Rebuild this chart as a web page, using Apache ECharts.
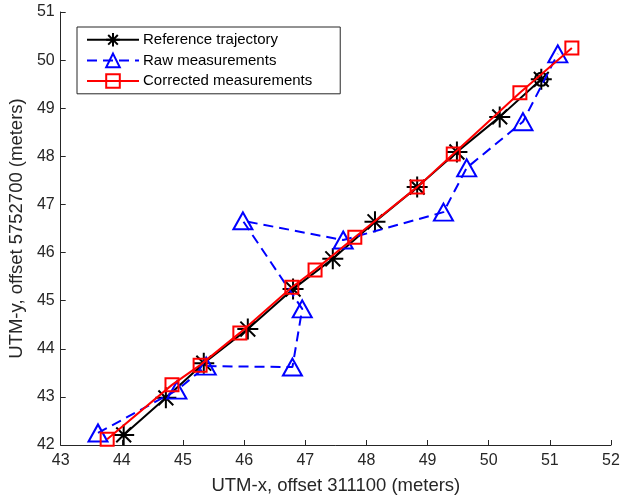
<!DOCTYPE html>
<html>
<head>
<meta charset="utf-8">
<script src="https://cdn.jsdelivr.net/npm/echarts@6/dist/echarts.min.js"></script>
<style>html,body{margin:0;padding:0;background:#fff;}#c{width:620px;height:499px;}</style>
</head>
<body>
<div id="c"></div>
<script>
// Reference trajectory
var refX = [44.03, 44.72, 45.34, 46.06, 46.80, 47.45, 48.14, 48.83, 49.48, 50.18, 50.86];
var refY = [42.21, 42.98, 43.70, 44.41, 45.24, 45.87, 46.64, 47.36, 48.09, 48.82, 49.60];
// Raw measurements
var rawX = [43.61, 44.90, 45.38, 46.79, 46.95, 45.98, 47.62, 49.26, 49.64, 50.56, 51.13];
var rawY = [42.25, 43.14, 43.64, 43.62, 44.83, 46.66, 46.26, 46.84, 47.76, 48.72, 50.13];
// Corrected measurements
var corX = [43.76, 44.82, 45.28, 45.93, 46.78, 47.16, 47.81, 48.83, 49.42, 50.51, 51.36];
var corY = [42.12, 43.25, 43.66, 44.33, 45.28, 45.64, 46.32, 47.36, 48.05, 49.32, 50.25];
// End marker (circle on final reference point)
var endX = [50.86];
var endY = [49.60];

var seriesNames = ['Reference trajectory', 'Raw measurements', 'Corrected measurements'];
var xLabel = 'UTM-x, offset 311100 (meters)';
var yLabel = 'UTM-y, offset 5752700 (meters)';

function pairs(xs, ys) { return xs.map(function (x, i) { return [x, ys[i]]; }); }

var FONT = 'Liberation Sans';
var AX = '#262626';
var starPath = 'path://M10,0L10,20M0,10L20,10M2.93,2.93L17.07,17.07M2.93,17.07L17.07,2.93';

var chart = echarts.init(document.getElementById('c'), null, {renderer: 'canvas'});
chart.setOption({
  animation: false,
  backgroundColor: '#fff',
  textStyle: {fontFamily: FONT},
  grid: {left: 60.7, right: 9, top: 12, bottom: 54, containLabel: false, outerBoundsMode: 'none'},
  legend: {
    orient: 'vertical', left: 77, top: 27,
    padding: [5, 28, 5, 9],
    itemWidth: 52, itemHeight: 17, itemGap: 5,
    borderColor: AX, borderWidth: 1, backgroundColor: '#fff',
    textStyle: {fontFamily: FONT, fontSize: 15, color: '#000', padding: [0, 0, 0, -1]},
    data: seriesNames
  },
  xAxis: {
    type: 'value', min: 43, max: 52, interval: 1,
    name: xLabel, nameLocation: 'middle', nameGap: 31,
    nameTextStyle: {fontFamily: FONT, fontSize: 18.5, color: AX},
    axisLine: {show: true, onZero: false, lineStyle: {color: AX, width: 1}},
    axisTick: {show: true, inside: true, length: 5, lineStyle: {color: AX}},
    axisLabel: {fontFamily: FONT, fontSize: 16, color: AX, margin: 8},
    splitLine: {show: false}
  },
  yAxis: {
    type: 'value', min: 42, max: 51, interval: 1,
    name: yLabel, nameLocation: 'middle', nameGap: 31,
    nameTextStyle: {fontFamily: FONT, fontSize: 18.5, color: AX},
    axisLine: {show: true, onZero: false, lineStyle: {color: AX, width: 1}},
    axisTick: {show: true, inside: true, length: 5, lineStyle: {color: AX}},
    axisLabel: {fontFamily: FONT, fontSize: 16, color: AX, margin: 6},
    splitLine: {show: false}
  },
  series: [
    {
      name: seriesNames[0], type: 'line', data: pairs(refX, refY),
      symbol: starPath, symbolSize: 21, symbolKeepAspect: true,
      lineStyle: {color: '#000', width: 2},
      itemStyle: {color: 'rgba(0,0,0,0)', borderColor: '#000', borderWidth: 2},
      z: 2
    },
    {
      name: 'end', type: 'line', data: pairs(endX, endY),
      symbol: 'circle', symbolSize: 13,
      lineStyle: {width: 0},
      itemStyle: {color: 'rgba(0,0,0,0)', borderColor: '#000', borderWidth: 2},
      z: 2
    },
    {
      name: seriesNames[1], type: 'line', data: pairs(rawX, rawY),
      symbol: 'triangle', symbolSize: [19, 17],
      lineStyle: {color: '#0000ff', width: 2, type: [10, 6]},
      itemStyle: {color: 'rgba(0,0,0,0)', borderColor: '#0000ff', borderWidth: 2},
      z: 3
    },
    {
      name: seriesNames[2], type: 'line', data: pairs(corX, corY),
      symbol: 'rect', symbolSize: 13,
      lineStyle: {color: '#ff0000', width: 2},
      itemStyle: {color: 'rgba(0,0,0,0)', borderColor: '#ff0000', borderWidth: 2},
      z: 4
    }
  ]
});
</script>
</body>
</html>
